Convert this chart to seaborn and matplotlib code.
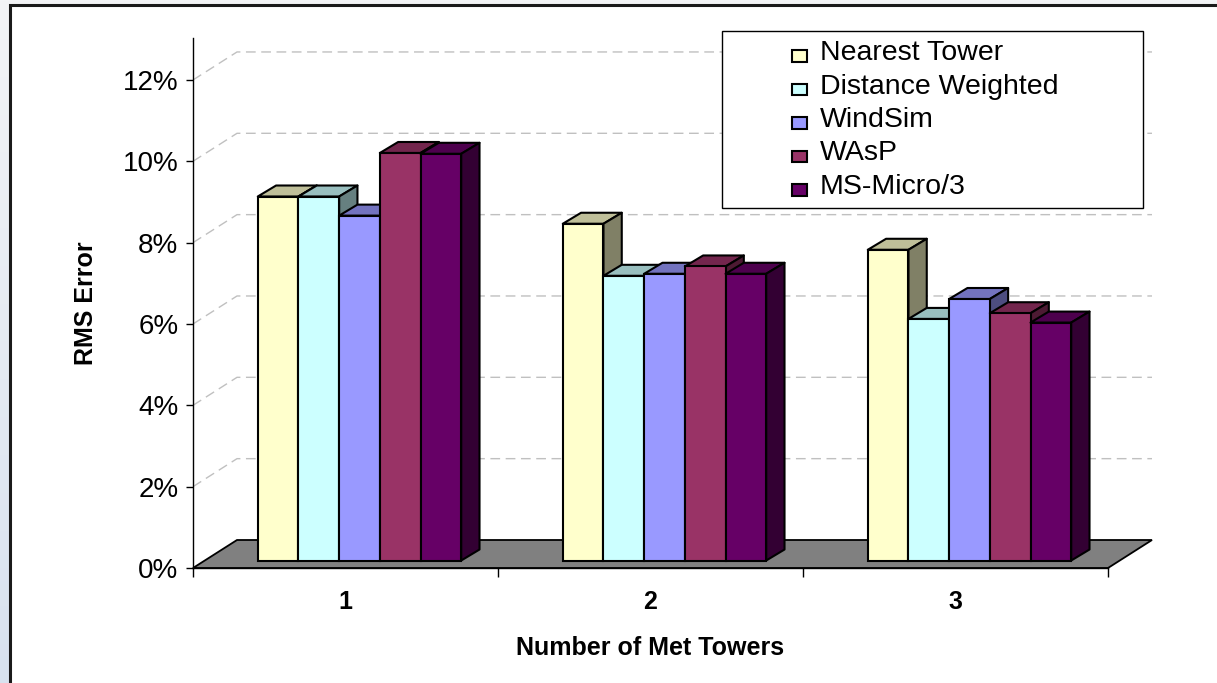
import numpy as np
import pandas as pd
import matplotlib
matplotlib.use("Agg")
import matplotlib.pyplot as plt
from matplotlib.patches import Polygon, Rectangle
from matplotlib.colors import to_rgb
import seaborn as sns

# ---- data -------------------------------------------------------------
towers = ["1", "2", "3"]
methods = ["Nearest Tower", "Distance Weighted", "WindSim", "WAsP", "MS-Micro/3"]
nearest_tower = [8.95, 8.28, 7.64]
distance_weighted = [8.95, 7.00, 5.94]
windsim = [8.48, 7.05, 6.43]
wasp = [10.02, 7.23, 6.08]
ms_micro = [10.00, 7.05, 5.85]
y_ticks = [0, 2, 4, 6, 8, 10, 12]
y_tick_labels = [f"{t}%" for t in y_ticks]
x_title = "Number of Met Towers"
y_title = "RMS Error"

face_colors = ["#FFFFCC", "#CCFFFF", "#9999FF", "#993366", "#660066"]

series = [nearest_tower, distance_weighted, windsim, wasp, ms_micro]
df = pd.DataFrame(
    [(t, m, v) for m, vals in zip(methods, series) for t, v in zip(towers, vals)],
    columns=["towers", "method", "rms"],
)

# ---- figure / style ---------------------------------------------------
sns.set_theme(style="white")
plt.rcParams["font.family"] = ["Liberation Sans", "DejaVu Sans"]
plt.rcParams["text.color"] = "black"
plt.rcParams["axes.labelcolor"] = "black"

W, H = 1217, 683
fig = plt.figure(figsize=(W / 100, H / 100), dpi=100)

# slide-like backdrop with the white chart frame
bg = fig.add_axes([0, 0, 1, 1])
bg.set_xlim(0, W)
bg.set_ylim(H, 0)
bg.axis("off")
grad = np.linspace(0, 1, 256)[:, None]
c_top = np.array(to_rgb("#f3f4f6"))
c_bot = np.array(to_rgb("#d8e2ef"))
img = c_top[None, None, :] * (1 - grad[..., None]) + c_bot[None, None, :] * grad[..., None]
img = np.repeat(img, 4, axis=1)
bg.imshow(img, extent=(0, W, H, 0), aspect="auto", zorder=0)
bg.add_patch(Rectangle((10, 5), W + 40, H + 40, facecolor="white",
                       edgecolor="#1a1a1a", linewidth=2.2, zorder=1))

# plotting area: front plane of the 3-D box
X0, X1, Y0, Y1 = 193, 1108, 568, 38
ax = fig.add_axes([X0 / W, (H - Y0) / H, (X1 - X0) / W, (Y0 - Y1) / H])
ax.patch.set_alpha(0)

sns.barplot(data=df, x="towers", y="rms", hue="method", hue_order=methods,
            order=towers, palette=face_colors, saturation=1, width=0.667,
            edgecolor="black", linewidth=1.5, legend=False, ax=ax)

px_per_cat = (X1 - X0) / 3
px_per_pct = 40.67
ymax = (Y0 - Y1) / px_per_pct
ax.set_xlim(-0.5, 2.5)
ax.set_ylim(0, ymax)

# oblique depth offsets (data units)
DX, DY = 44 / px_per_cat, 28 / px_per_pct          # full floor depth
FX, FY = 14 / px_per_cat, 7.5 / px_per_pct         # bar front face
BX, BY = 18.3 / px_per_cat, 11 / px_per_pct        # bar depth

# gridlines: side wall diagonals + back wall
for t in y_ticks[1:]:
    ax.plot([-0.5, -0.5 + DX, 2.5 + DX], [t, t + DY, t + DY], color="#c0c0c0",
            linestyle=(0, (7, 4)), linewidth=1, clip_on=False, zorder=1)

# floor
ax.add_patch(Polygon([(-0.5, 0), (2.5, 0), (2.5 + DX, DY), (-0.5 + DX, DY)],
                     closed=True, facecolor="#808080", edgecolor="black",
                     linewidth=1.3, clip_on=False, zorder=2))

# extrude bars into boxes
for h, cont in enumerate(ax.containers):
    base = np.array(to_rgb(face_colors[h]))
    for c, bar in enumerate(cont):
        x0, w, v = bar.get_x(), bar.get_width(), bar.get_height()
        xf, yf = x0 + FX, FY
        bar.set_x(xf)
        bar.set_y(yf)
        z = 3 + 0.01 * (c * len(methods) + h)
        bar.set_zorder(z + 0.001)
        top = [(xf, yf + v), (xf + w, yf + v), (xf + w + BX, yf + v + BY), (xf + BX, yf + v + BY)]
        side = [(xf + w, yf), (xf + w, yf + v), (xf + w + BX, yf + v + BY), (xf + w + BX, yf + BY)]
        ax.add_patch(Polygon(top, closed=True, facecolor=base * 0.75, edgecolor="black",
                             linewidth=1.5, joinstyle="round", zorder=z, clip_on=False))
        ax.add_patch(Polygon(side, closed=True, facecolor=base * 0.5, edgecolor="black",
                             linewidth=1.5, joinstyle="round", zorder=z, clip_on=False))

# axes
for s in ["top", "right"]:
    ax.spines[s].set_visible(False)
for s in ["left", "bottom"]:
    ax.spines[s].set_color("black")
    ax.spines[s].set_linewidth(1)
ax.spines["bottom"].set_zorder(2.5)

ax.set_yticks(y_ticks)
ax.set_yticklabels(y_tick_labels, fontsize=20)
ax.tick_params(axis="y", direction="out", length=5, width=1, pad=5.5, colors="black", left=True)
ax.set_xticks(range(len(towers)))
ax.set_xticklabels(towers, fontsize=18, fontweight="bold")
ax.set_xticks([-0.5, 0.5, 1.5, 2.5], minor=True)
ax.tick_params(axis="x", which="major", length=0, pad=16, colors="black")
ax.tick_params(axis="x", which="minor", direction="out", length=6.5, width=1,
               colors="black", bottom=True)

ax.set_xlabel(x_title, fontsize=18, fontweight="bold", va="center", color="black")
ax.xaxis.set_label_coords((650 - X0) / (X1 - X0), (Y0 - 648) / (Y0 - Y1))
ax.set_ylabel(y_title, fontsize=18, fontweight="bold", va="center", color="black")
ax.yaxis.set_label_coords((86 - X0) / (X1 - X0), (Y0 - 303) / (Y0 - Y1))

# legend box
lg = fig.add_axes([0, 0, 1, 1])
lg.set_xlim(0, W)
lg.set_ylim(H, 0)
lg.axis("off")
lg.patch.set_alpha(0)
lg.add_patch(Rectangle((721.7, 31), 421.6, 177, facecolor="white",
                       edgecolor="black", linewidth=1))
for i, (name, col) in enumerate(zip(methods, face_colors)):
    yb = 60 + 33.5 * i
    lg.add_patch(Rectangle((792, yb + 1.5 - 11.5), 15, 11.5, facecolor=col,
                           edgecolor="black", linewidth=1.5))
    lg.text(820, yb, name, fontsize=20.5, va="baseline", ha="left", color="black")

fig.savefig("out.png", dpi=100)
